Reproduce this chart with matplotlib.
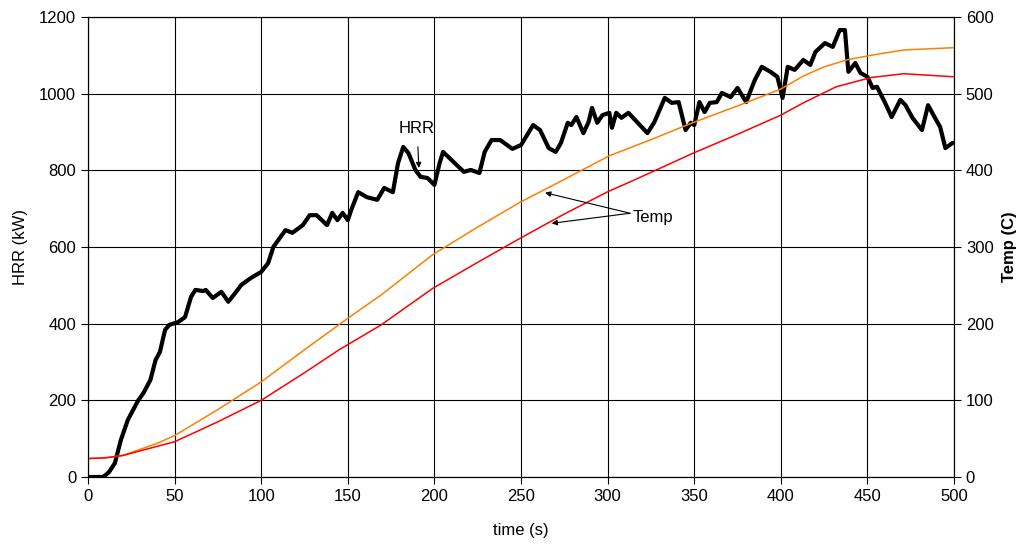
import matplotlib
matplotlib.use("Agg")
import matplotlib.pyplot as plt

plt.rcParams['font.family'] = ['Liberation Sans', 'DejaVu Sans']

# HRR (kW), black curve
hrr_t = [0, 8.7, 12, 15.5, 19, 23, 29, 32, 36, 39, 41.5, 44.5, 47, 52, 56, 59.5, 62, 66.5, 68,
         72, 77, 81, 85, 88.5, 94, 100, 104, 107, 114, 118, 124, 128, 132, 138, 141, 144, 147,
         150, 152, 156, 161, 167, 171, 176, 179, 182, 185, 189, 192, 196, 200, 203, 205, 211,
         217, 221, 226, 229, 233, 238, 245, 250, 257, 261, 266, 270, 273, 277, 279, 282, 286,
         289, 291, 294, 297, 301, 302.5, 305, 308, 312, 317, 323, 327, 333, 337, 341, 345, 348,
         350, 353, 356, 359, 363, 366, 371, 375, 380, 385, 389, 394, 398, 401, 404, 408, 413,
         417, 420, 425.5, 430, 434, 437, 439, 443, 446, 450, 453, 455.5, 460, 464, 469, 472,
         476, 481.5, 485, 489, 492, 495, 499, 500]
hrr_kw = [0, 0, 12, 36, 97, 149, 200, 219, 253, 305, 326, 384, 397, 404, 417, 470, 488, 485, 488,
          467, 483, 457, 480, 501, 519, 535, 558, 600, 644, 637, 657, 683, 683, 657, 689, 670, 689,
          670, 697, 743, 730, 723, 754, 743, 819, 861, 845, 801, 783, 780, 762, 819, 848, 822,
          796, 801, 793, 848, 879, 879, 856, 866, 918, 905, 858, 848, 871, 924, 918, 939, 897,
          926, 963, 924, 944, 950, 911, 950, 937, 950, 926, 897, 926, 989, 976, 978, 905, 924,
          918, 978, 952, 976, 978, 1002, 991, 1015, 978, 1036, 1070, 1057, 1044, 989, 1070, 1062, 1088,
          1075, 1109, 1132, 1122, 1166, 1166, 1057, 1080, 1054, 1044, 1015, 1018, 978, 939, 984, 970,
          937, 905, 970, 937, 913, 858, 871, 872]

# temperatures (C), two thermocouples
temp1_t = [0, 10, 20, 30, 40, 50, 75, 100, 125, 150, 169, 199, 225, 250, 274, 301, 325, 349,
           375, 400, 413, 425, 438, 452, 471, 500]
temp1_c = [24, 25, 28, 36, 44, 54, 88, 124, 166, 207, 237, 290, 326, 359, 387, 419, 440, 462,
           484, 506, 523, 535, 544, 550, 557, 560]
temp2_t = [0, 10, 20, 30, 40, 50, 75, 100, 125, 145, 169, 199, 225, 250, 275, 300, 315, 349,
           375, 400, 413, 432, 452, 471, 500]
temp2_c = [24, 25, 28, 34, 40, 46, 72, 100, 136, 166, 198, 246, 280, 312, 343, 372, 387, 422,
           447, 472, 488, 509, 521, 526, 522]

fig = plt.figure(figsize=(10.21, 5.45), dpi=100)
ax = fig.add_axes([0.0862, 0.1248, 0.8482, 0.844])
ax2 = ax.twinx()

ax.plot(hrr_t, hrr_kw, color='black', lw=3.0, solid_joinstyle='round', solid_capstyle='round')
ax2.plot(temp1_t, temp1_c, color='#ff7f00', lw=1.1)
ax2.plot(temp2_t, temp2_c, color='#ff0000', lw=1.1)

ax.set_xlim(0, 500)
ax.set_ylim(0, 1200)
ax2.set_ylim(0, 600)
ax.set_xticks(range(0, 501, 50))
ax.set_yticks(range(0, 1201, 200))
ax2.set_yticks(range(0, 601, 100))
ax.grid(True, color='black', lw=0.8)
ax.set_axisbelow(True)

for a in (ax, ax2):
    a.tick_params(direction='out', length=5, width=0.8, labelsize=12, colors='black')
    for s in a.spines.values():
        s.set_linewidth(0.8)

ax.set_xlabel('time (s)', fontsize=12, labelpad=14)
ax.set_ylabel('HRR (kW)', fontsize=12, labelpad=8)
ax2.set_ylabel('Temp (C)', fontsize=12, fontweight='bold', labelpad=6)

ax.annotate('HRR', xy=(191, 806), xytext=(190, 910), fontsize=12, ha='center', va='center',
            arrowprops=dict(arrowstyle='-|>', color='black', lw=0.8, mutation_scale=8,
                            shrinkA=6, shrinkB=0))
ax2.annotate('', xy=(263.9, 370.8), xytext=(313, 344),
             arrowprops=dict(arrowstyle='-|>', color='black', lw=0.8, mutation_scale=8,
                             shrinkA=0, shrinkB=0))
ax2.annotate('', xy=(267.7, 330.9), xytext=(313, 344),
             arrowprops=dict(arrowstyle='-|>', color='black', lw=0.8, mutation_scale=8,
                             shrinkA=0, shrinkB=0))
ax2.text(314.5, 339, 'Temp', fontsize=12, ha='left', va='center')

fig.savefig('out.png', dpi=100)
